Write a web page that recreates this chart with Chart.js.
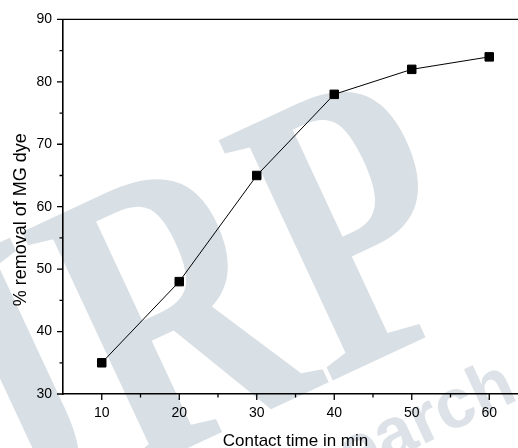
<!DOCTYPE html>
<html>
<head>
<meta charset="utf-8">
<script src="https://cdn.jsdelivr.net/npm/chart.js@4.4.1/dist/chart.umd.min.js"></script>
<style>
html,body{margin:0;padding:0;background:#fff;overflow:hidden;width:518px;height:448px;}
#wrap{position:absolute;left:0;top:0;width:540px;height:448px;}
</style>
</head>
<body>
<div id="wrap"><canvas id="c" width="540" height="448"></canvas></div>
<script>
const contactTime = [10, 20, 30, 40, 50, 60];
const removal = [35, 48, 65, 78, 82, 84];
const xTicks = [10, 20, 30, 40, 50, 60];
const xMinor = [15, 25, 35, 45, 55];
const yTicks = [30, 40, 50, 60, 70, 80, 90];
const yMinor = [35, 45, 55, 65, 75, 85];
const xTitle = 'Contact time in min';
const yTitle = '% removal of MG dye';
const watermarkText = 'IJRP';
const watermarkSub = 'research';

const FONT = "'Liberation Sans', Arial, sans-serif";

// faint background watermark of the source image
const watermark = {
  id: 'watermark',
  beforeDraw(chart) {
    const ctx = chart.ctx;
    const phi = -25 * Math.PI / 180;
    const u = [Math.cos(phi), Math.sin(phi)];
    const v = [-Math.sin(phi), Math.cos(phi)];
    const kx = 0.74, F = 406;
    ctx.save();
    ctx.font = 'bold ' + F + "px 'Liberation Serif', serif";
    const pre = ctx.measureText(watermarkText.slice(0, -1)).width;
    const mP = ctx.measureText(watermarkText.slice(-1));
    const pLeft = pre - mP.actualBoundingBoxLeft;
    const pTop = -mP.actualBoundingBoxAscent;
    const ax = 218, ay = 140;
    const ox = ax - kx * pLeft * u[0] - pTop * v[0];
    const oy = ay - kx * pLeft * u[1] - pTop * v[1];
    ctx.setTransform(kx * u[0], kx * u[1], v[0], v[1], ox, oy);
    ctx.fillStyle = '#d8dfe5';
    ctx.textAlign = 'left';
    ctx.textBaseline = 'alphabetic';
    ctx.fillText(watermarkText, 0, 0);
    // smaller word below
    ctx.setTransform(u[0], u[1], v[0], v[1], ox, oy);
    ctx.font = "bold 70px 'Liberation Sans', sans-serif";
    const s0 = 505 - ctx.measureText(watermarkSub.slice(0, 4)).width;
    ctx.fillStyle = '#dce2e7';
    ctx.fillText(watermarkSub, s0, 96);
    ctx.restore();
  }
};

const axisDeco = {
  id: 'axisDeco',
  afterDraw(chart) {
    const ctx = chart.ctx, a = chart.chartArea;
    const xs = chart.scales.x, ys = chart.scales.y;
    ctx.save();
    ctx.strokeStyle = '#000';
    ctx.lineWidth = 1.2;
    ctx.beginPath(); ctx.moveTo(a.left, a.top); ctx.lineTo(chart.width, a.top); ctx.stroke();
    ctx.lineWidth = 1.3;
    ctx.beginPath();
    xTicks.forEach(v => { const p = xs.getPixelForValue(v); ctx.moveTo(p, a.bottom); ctx.lineTo(p, a.bottom + 6); });
    xMinor.forEach(v => { const p = xs.getPixelForValue(v); ctx.moveTo(p, a.bottom); ctx.lineTo(p, a.bottom + 3.5); });
    yTicks.forEach(v => { const p = ys.getPixelForValue(v); ctx.moveTo(a.left, p); ctx.lineTo(a.left - 6, p); });
    yMinor.forEach(v => { const p = ys.getPixelForValue(v); ctx.moveTo(a.left, p); ctx.lineTo(a.left - 3.5, p); });
    ctx.stroke();
    ctx.fillStyle = '#000';
    ctx.font = '18px ' + FONT;
    ctx.textAlign = 'center';
    ctx.textBaseline = 'alphabetic';
    ctx.translate(26, (a.top + a.bottom) / 2 + 13);
    ctx.rotate(-Math.PI / 2);
    ctx.fillText(yTitle, 0, 0);
    ctx.restore();
  }
};

new Chart(document.getElementById('c'), {
  type: 'line',
  data: {
    labels: contactTime,
    datasets: [{
      data: contactTime.map((x, i) => ({x: x, y: removal[i]})),
      borderColor: '#000',
      borderWidth: 1,
      tension: 0,
      pointStyle: 'rect',
      pointRadius: 6,
      pointBackgroundColor: '#000',
      pointBorderColor: '#000',
      pointBorderWidth: 1,
      clip: false
    }]
  },
  options: {
    responsive: false,
    animation: false,
    events: [],
    layout: {padding: {left: 0, right: 12, top: 17, bottom: 0}},
    plugins: {legend: {display: false}, tooltip: {enabled: false}},
    scales: {
      x: {
        type: 'linear', min: 5, max: 65,
        afterBuildTicks: s => { s.ticks = xTicks.map(v => ({value: v})); },
        afterFit: s => { s.height = 54; },
        grid: {display: false, drawTicks: false},
        border: {display: true, color: '#000', width: 1.6},
        ticks: {color: '#000', font: {size: 14, family: FONT}, padding: 11, maxRotation: 0},
        title: {display: true, text: xTitle, color: '#000', font: {size: 17, family: FONT, lineHeight: 0.8}, padding: 0}
      },
      y: {
        min: 30, max: 90,
        afterBuildTicks: s => { s.ticks = yTicks.map(v => ({value: v})); },
        afterFit: s => { s.width = 63; },
        grid: {display: false, drawTicks: false},
        border: {display: true, color: '#000', width: 1.6},
        ticks: {color: '#000', font: {size: 14, family: FONT}, padding: 11}
      }
    }
  },
  plugins: [watermark, axisDeco]
});
</script>
</body>
</html>
